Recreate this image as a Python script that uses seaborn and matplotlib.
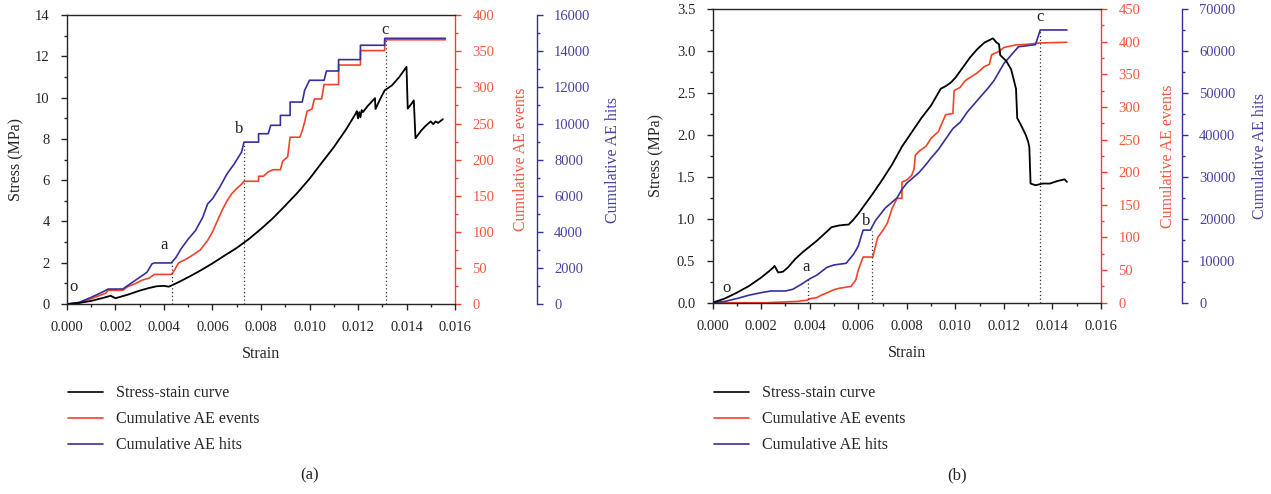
import matplotlib
matplotlib.use('Agg')
import matplotlib.pyplot as plt
import seaborn as sns
from matplotlib.lines import Line2D
from matplotlib.ticker import MultipleLocator, FormatStrFormatter

# ---- panel (a) ----
a_stress_strain = [0, 0.0005, 0.001, 0.0015, 0.0018, 0.002, 0.0025, 0.003, 0.0034, 0.0037, 0.004, 0.0042,
                   0.0045, 0.005, 0.0055, 0.006, 0.0065, 0.007, 0.0075, 0.008, 0.0085, 0.009, 0.0095, 0.010,
                   0.0105, 0.011, 0.0115, 0.0119, 0.01195, 0.0120, 0.01205, 0.0121, 0.01215, 0.0122, 0.0124,
                   0.0127, 0.01272, 0.0129, 0.0131, 0.0134, 0.0137, 0.0140, 0.01405, 0.0142, 0.0143, 0.01437,
                   0.0146, 0.0148, 0.0150, 0.0151, 0.0152, 0.0153, 0.0155]
a_stress = [0, 0.05, 0.15, 0.3, 0.4, 0.28, 0.45, 0.65, 0.78, 0.86, 0.88, 0.84,
            1.0, 1.3, 1.62, 1.97, 2.35, 2.72, 3.15, 3.64, 4.17, 4.77, 5.39, 6.07,
            6.84, 7.6, 8.45, 9.22, 9.35, 9.0, 9.3, 9.05, 9.4, 9.3, 9.6,
            9.98, 9.45, 9.9, 10.36, 10.6, 11.0, 11.5, 9.47, 9.7, 9.87, 8.04,
            8.4, 8.65, 8.85, 8.72, 8.85, 8.78, 8.96]

a_events_strain = [0, 0.0004, 0.0008, 0.0012, 0.0016, 0.0017, 0.0023, 0.0025, 0.0028, 0.0031, 0.0034, 0.0036,
                   0.0043, 0.0044, 0.0046, 0.0049, 0.0052, 0.0055, 0.0058, 0.0060, 0.0062, 0.0064, 0.0066,
                   0.0068, 0.0070, 0.0072, 0.0073, 0.0079, 0.0079, 0.0081, 0.0083, 0.0085, 0.0088, 0.0089,
                   0.0091, 0.0092, 0.0096, 0.0097, 0.0098, 0.0099, 0.0101, 0.0102, 0.0105, 0.0106, 0.0112,
                   0.0112, 0.0121, 0.0121, 0.0131, 0.0131, 0.0156]
a_events = [0, 0, 5, 10, 15, 19, 19, 24, 28, 33, 36, 41,
            41, 45, 57, 62, 68, 75, 88, 100, 115, 130, 143,
            153, 160, 166, 170, 170, 177, 177, 183, 186, 186, 198,
            204, 231, 231, 240, 252, 267, 270, 284, 284, 304, 304,
            331, 331, 351, 351, 366, 366]

a_hits_strain = [0, 0.0005, 0.001, 0.0015, 0.0017, 0.0023, 0.0026, 0.003, 0.0033, 0.0035, 0.0036, 0.0043,
                 0.0045, 0.0047, 0.005, 0.0053, 0.0056, 0.0058, 0.006, 0.0063, 0.0066, 0.0069, 0.0072,
                 0.0073, 0.0079, 0.0079, 0.0083, 0.0084, 0.0088, 0.0088, 0.0092, 0.0092, 0.0097, 0.0098,
                 0.0100, 0.0106, 0.0107, 0.0112, 0.0112, 0.0121, 0.0121, 0.0131, 0.0131, 0.0156]
a_hits = [0, 90, 370, 685, 830, 830, 1110, 1480, 1760, 2220, 2275, 2275,
          2590, 3050, 3600, 4070, 4810, 5550, 5830, 6475, 7215, 7770, 8420,
          8970, 8970, 9435, 9435, 9900, 9900, 10450, 10450, 11190, 11190, 11840,
          12395, 12395, 12910, 12910, 13540, 13540, 14335, 14335, 14720, 14720]

a_phase_names = ['o', 'a', 'b', 'c']
a_phase_text_x = [0.00027, 0.0040, 0.0071, 0.0131]
a_phase_text_y = [0.84, 2.88, 8.5, 13.3]
a_guide_strain = [0.00435, 0.0073, 0.01315]
a_guide_top = [2.02, 7.77, 12.86]

# ---- panel (b) ----
b_stress_strain = [0, 0.0005, 0.001, 0.0015, 0.002, 0.0023, 0.0025, 0.00255, 0.0027, 0.0029, 0.0031, 0.0034,
                   0.0037, 0.004, 0.0043, 0.0046, 0.0049, 0.0052, 0.0055, 0.0056, 0.0058, 0.006, 0.0063,
                   0.0066, 0.0070, 0.0074, 0.0078, 0.0082, 0.0086, 0.0090, 0.0094, 0.0096, 0.0098, 0.0100,
                   0.0103, 0.0106, 0.0109, 0.0112, 0.01155, 0.0117, 0.0118, 0.01185, 0.0121, 0.0123, 0.0125,
                   0.01255, 0.0127, 0.0129, 0.0130, 0.01305, 0.0131, 0.0133, 0.0136, 0.0139, 0.0142, 0.0145,
                   0.0146]
b_stress = [0, 0.05, 0.12, 0.2, 0.3, 0.37, 0.42, 0.44, 0.36, 0.37, 0.42, 0.52,
            0.6, 0.67, 0.74, 0.82, 0.9, 0.92, 0.93, 0.93, 0.99, 1.06, 1.18,
            1.3, 1.47, 1.65, 1.86, 2.03, 2.2, 2.35, 2.55, 2.58, 2.62, 2.68,
            2.8, 2.92, 3.02, 3.1, 3.15, 3.1, 3.08, 2.95, 2.88, 2.78, 2.55,
            2.2, 2.12, 2.0, 1.92, 1.85, 1.42, 1.4, 1.42, 1.42, 1.45, 1.47,
            1.44]

b_events_strain = [0, 0.0022, 0.0035, 0.0039, 0.004, 0.0043, 0.0045, 0.0047, 0.005, 0.0052, 0.0057, 0.0059,
                   0.0060, 0.0061, 0.0062, 0.0066, 0.0068, 0.0070, 0.0072, 0.0074, 0.0076, 0.0078, 0.0078,
                   0.0080, 0.0082, 0.0083, 0.00835, 0.0085, 0.0088, 0.0090, 0.0093, 0.0096, 0.0099, 0.00995,
                   0.0102, 0.0104, 0.0106, 0.0109, 0.0112, 0.0114, 0.0115, 0.0118, 0.0120, 0.0125, 0.0130,
                   0.0135, 0.0146]
b_events = [0, 0, 2, 4, 6, 8, 12, 15, 20, 22, 25, 35,
            50, 60, 70, 70, 100, 110, 122, 145, 160, 160, 185,
            188, 195, 205, 226, 232, 240, 252, 262, 288, 290, 325,
            330, 340, 345, 352, 362, 365, 380, 385, 391, 395, 396,
            398, 399]

b_hits_strain = [0, 0.0005, 0.001, 0.0015, 0.002, 0.0024, 0.003, 0.0033, 0.0036, 0.004, 0.0043, 0.0047,
                 0.005, 0.0055, 0.0058, 0.006, 0.0062, 0.0065, 0.0067, 0.0069, 0.0071, 0.0074, 0.0076,
                 0.0078, 0.008, 0.0082, 0.0085, 0.0088, 0.009, 0.0093, 0.0096, 0.0099, 0.0102, 0.0105,
                 0.0108, 0.0111, 0.0114, 0.0116, 0.0118, 0.012, 0.0123, 0.0126, 0.0133, 0.0135, 0.0146]
b_hits = [0, 300, 1000, 1800, 2400, 2800, 2800, 3200, 4200, 5700, 6600, 8400,
          9000, 9400, 11500, 13500, 17300, 17300, 19500, 21000, 22500, 24000, 25000,
          27000, 28500, 29500, 31000, 33000, 34500, 36500, 39000, 41500, 43000, 45500,
          47500, 49500, 51500, 53000, 55000, 57000, 59000, 61000, 61500, 65000, 65000]

b_phase_names = ['o', 'a', 'b', 'c']
b_phase_text_x = [0.00058, 0.00385, 0.00634, 0.0135]
b_phase_text_y = [0.17, 0.43, 0.97, 3.4]
b_guide_strain = [0.00392, 0.00658, 0.0135]
b_guide_top = [0.31, 0.86, 3.26]

legend_labels = ['Stress-stain curve', 'Cumulative AE events', 'Cumulative AE hits']

RED = '#f0442a'
BLUE = '#35309a'
RED_TXT = '#f2583f'
BLUE_TXT = '#4a43a0'

sns.set_style('ticks')
plt.rcParams['font.family'] = ['Liberation Serif', 'DejaVu Serif']
plt.rcParams['font.size'] = 10.5
plt.rcParams['axes.linewidth'] = 1.0

fig = plt.figure(figsize=(12.71, 4.94), dpi=100)


def panel(rect, stress_x, stress, ev_x, ev, hit_x, hit, ylim, ystep, yminor, evlim, hitlim, hitstep, hitminor,
          names, tx, ty, gx, gtop, blue_off, lab):
    ax = fig.add_axes(rect)
    axr = ax.twinx()
    axb = ax.twinx()
    axb.spines['right'].set_position(('axes', blue_off))

    sns.lineplot(x=ev_x, y=ev, ax=axr, color=RED, lw=1.2, sort=False, estimator=None)
    sns.lineplot(x=hit_x, y=hit, ax=axb, color=BLUE, lw=1.2, sort=False, estimator=None)
    sns.lineplot(x=stress_x, y=stress, ax=ax, color='black', lw=1.3, sort=False, estimator=None)
    ax.set_zorder(3)
    ax.patch.set_visible(False)

    ax.vlines(gx, 0, gtop, colors='#333333', linestyles=(0, (1, 2)), lw=0.9)
    for n, x, y in zip(names, tx, ty):
        ax.text(x, y, n, ha='center', va='center', fontsize=12)

    ax.set_xlim(0, 0.016)
    ax.set_ylim(*ylim)
    axr.set_ylim(*evlim)
    axb.set_ylim(*hitlim)
    ax.xaxis.set_major_locator(MultipleLocator(0.002))
    ax.xaxis.set_minor_locator(MultipleLocator(0.001))
    ax.xaxis.set_major_formatter(FormatStrFormatter('%.3f'))
    ax.yaxis.set_major_locator(MultipleLocator(ystep))
    ax.yaxis.set_minor_locator(MultipleLocator(yminor))
    axr.yaxis.set_major_locator(MultipleLocator(50))
    axr.yaxis.set_minor_locator(MultipleLocator(25))
    axb.yaxis.set_major_locator(MultipleLocator(hitstep))
    axb.yaxis.set_minor_locator(MultipleLocator(hitminor))
    if ystep == 0.5:
        ax.yaxis.set_major_formatter(FormatStrFormatter('%.1f'))

    for a in (ax, axr, axb):
        a.tick_params(which='major', direction='out', length=4, width=1, pad=8.5)
        a.tick_params(which='minor', direction='out', length=2.5, width=1)
    ax.spines['right'].set_visible(False)
    ax.spines['top'].set_visible(True)
    for s in ('left', 'top', 'bottom'):
        axr.spines[s].set_visible(False)
        axb.spines[s].set_visible(False)
    axr.spines['right'].set_color(RED)
    axb.spines['right'].set_color(BLUE)
    axr.tick_params(axis='y', which='both', colors=RED, labelcolor=RED_TXT)
    axb.tick_params(axis='y', which='both', colors=BLUE, labelcolor=BLUE_TXT)

    ax.set_xlabel('Strain', fontsize=11.5)
    ax.set_ylabel('Stress (MPa)', fontsize=11.5)
    axr.set_ylabel('Cumulative AE events', color=RED_TXT, fontsize=11.5)
    axb.set_ylabel('Cumulative AE hits', color=BLUE_TXT, fontsize=11.5)
    ax.xaxis.set_label_coords(0.5, -0.145)

    handles = [Line2D([], [], color=c, lw=1.2) for c in ('black', RED, BLUE)]
    ax.legend(handles, legend_labels, loc='upper left', frameon=False,
              bbox_to_anchor=(rect[0] - 0.0054, 0.236), bbox_transform=fig.transFigure,
              borderpad=0, handlelength=2.2, handletextpad=0.8, labelspacing=0.62,
              fontsize=11.5)
    fig.text(lab[0], lab[1], lab[2], ha='center', va='center', fontsize=12)
    return ax, axr, axb


axs_a = panel([0.0527, 0.3846, 0.3053, 0.5846], a_stress_strain, a_stress, a_events_strain, a_events,
              a_hits_strain, a_hits, (0, 14), 2, 1, (0, 400), (0, 16000), 2000, 1000,
              a_phase_names, a_phase_text_x, a_phase_text_y, a_guide_strain, a_guide_top, 1.2106,
              (310 / 1271, 1 - 475 / 494, '(a)'))
axs_b = panel([0.5607, 0.3872, 0.3055, 0.5946], b_stress_strain, b_stress, b_events_strain, b_events,
              b_hits_strain, b_hits, (0, 3.5), 0.5, 0.25, (0, 450), (0, 70000), 10000, 5000,
              b_phase_names, b_phase_text_x, b_phase_text_y, b_guide_strain, b_guide_top, 1.208,
              (957 / 1271, 1 - 475 / 494, '(b)'))

axs_a[0].yaxis.set_label_coords(-0.111, 0.5)
axs_a[1].yaxis.set_label_coords(1.149, 0.5)
axs_a[2].yaxis.set_label_coords(1.387, 0.5)
axs_b[0].yaxis.set_label_coords(-0.125, 0.5)
axs_b[1].yaxis.set_label_coords(1.152, 0.5)
axs_b[2].yaxis.set_label_coords(1.39, 0.5)

fig.savefig('out.png', dpi=100)
